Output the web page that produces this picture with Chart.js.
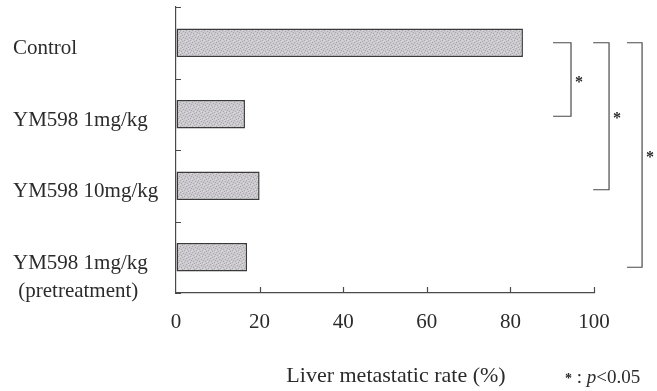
<!DOCTYPE html>
<html>
<head>
<meta charset="utf-8">
<script src="https://cdn.jsdelivr.net/npm/chart.js@4/dist/chart.umd.min.js"></script>
<style>
  html, body { margin: 0; padding: 0; background: #fff; }
  #box { width: 657px; height: 391px; }
</style>
</head>
<body>
<div id="box"><canvas id="grafico"></canvas></div>
<script>
const grupos = ['Control', 'YM598 1mg/kg', 'YM598 10mg/kg', ['', 'YM598 1mg/kg', ' (pretreatment)']];
const taxas = [83, 16.5, 20, 17];
const ticksX = [0, 20, 40, 60, 80, 100];
// comparações significativas: [grupo A, grupo B, marca]
const comparacoes = [[0, 1, '*'], [0, 2, '*'], [0, 3, '*']];

const fonte = 'Liberation Serif, Times New Roman, serif';
const corTexto = '#2b2b2b';
const corLinha = '#4a4a4a';

// textura pontilhada das barras (padrão fixo)
function criarTextura() {
  const c = document.createElement('canvas');
  c.width = 6; c.height = 6;
  const g = c.getContext('2d');
  g.fillStyle = '#cbc9cd';
  g.fillRect(0, 0, 6, 6);
  g.fillStyle = '#a9a7ab';
  [[0, 0], [3, 1], [1, 3], [4, 4], [5, 2], [2, 5]].forEach(p => g.fillRect(p[0], p[1], 1, 1));
  g.fillStyle = '#dddbdf';
  [[2, 0], [5, 5], [0, 4], [3, 3]].forEach(p => g.fillRect(p[0], p[1], 1, 1));
  return g.createPattern(c, 'repeat');
}

// tracinhos dos eixos (para dentro) + colchetes de significância + nota
const extras = {
  id: 'extras',
  afterDraw(chart) {
    const ctx = chart.ctx;
    const x = chart.scales.x, y = chart.scales.y;
    const area = chart.chartArea;
    ctx.save();
    ctx.strokeStyle = corLinha;
    ctx.lineWidth = 1.2;
    ctx.beginPath();
    ticksX.slice(1).forEach(v => {
      const px = Math.round(x.getPixelForValue(v)) + 0.5;
      ctx.moveTo(px, area.bottom);
      ctx.lineTo(px, area.bottom - 6);
    });
    for (let i = 0; i <= grupos.length; i++) {
      const py = Math.round(y.getPixelForValue(i - 0.5)) + 0.5;
      ctx.moveTo(area.left, py);
      ctx.lineTo(area.left + 5, py);
    }
    ctx.stroke();

    const posX = [[90.2, 94.5], [99.8, 103.6], [107.9, 111.5]];
    const extra = [2, 4, 10];
    ctx.fillStyle = corTexto;
    comparacoes.forEach((c, i) => {
      const x1 = x.getPixelForValue(posX[i][0]);
      const x2 = x.getPixelForValue(posX[i][1]);
      const y1 = y.getPixelForValue(c[0]);
      const y2 = y.getPixelForValue(c[1]) + extra[i];
      ctx.beginPath();
      ctx.moveTo(x1, y1);
      ctx.lineTo(x2, y1);
      ctx.lineTo(x2, y2);
      ctx.lineTo(x1, y2);
      ctx.stroke();
      ctx.font = 'bold 16px ' + fonte;
      ctx.textAlign = 'left';
      ctx.textBaseline = 'middle';
      ctx.fillText(c[2], x2 + 4, (y1 + y2) / 2 + 3);
    });

    const by = 383;
    let px = chart.width - 92;
    ctx.textBaseline = 'alphabetic';
    ctx.font = 'bold 14px ' + fonte;
    ctx.fillText('*', px, by);
    px += ctx.measureText('*').width;
    ctx.font = '19px ' + fonte;
    ctx.fillText(' : ', px, by);
    px += ctx.measureText(' : ').width;
    ctx.font = 'italic 19px ' + fonte;
    ctx.fillText('p', px, by);
    px += ctx.measureText('p').width;
    ctx.font = '19px ' + fonte;
    ctx.fillText('<0.05', px, by);
    ctx.restore();
  }
};

new Chart(document.getElementById('grafico'), {
  type: 'bar',
  data: {
    labels: grupos,
    datasets: [{
      label: 'Liver metastatic rate (%)',
      data: taxas,
      backgroundColor: criarTextura(),
      borderColor: '#3a3a3a',
      borderWidth: 1.5,
      borderSkipped: false,
      barPercentage: 0.4,
      categoryPercentage: 1
    }]
  },
  options: {
    indexAxis: 'y',
    responsive: true,
    maintainAspectRatio: false,
    animation: false,
    layout: { padding: { left: 13, top: 7, right: 63, bottom: 0 } },
    plugins: {
      legend: { display: false },
      tooltip: { enabled: false }
    },
    scales: {
      x: {
        min: 0,
        max: 100,
        afterBuildTicks(scale) { scale.ticks = ticksX.map(v => ({ value: v })); },
        afterFit(scale) { scale.height = 98; },
        grid: { drawOnChartArea: false, drawTicks: false },
        border: { color: corLinha, width: 1.2 },
        ticks: { color: corTexto, font: { family: fonte, size: 21 }, padding: 17 },
        title: {
          display: true,
          text: '    Liver metastatic rate (%)',
          color: corTexto,
          font: { family: fonte, size: 22 },
          padding: { top: 2, bottom: 2 }
        }
      },
      y: {
        afterFit(scale) {
          scale.width = 163;
          scale.paddingTop = 0;
          scale.paddingBottom = 0;
        },
        grid: { offset: true, drawOnChartArea: false, drawTicks: false },
        border: { color: corLinha, width: 1.2 },
        ticks: {
          autoSkip: false,
          crossAlign: 'far',
          labelOffset: 6,
          color: corTexto,
          font: { family: fonte, size: 21, lineHeight: 1.35 }
        }
      }
    }
  },
  plugins: [extras]
});
</script>
</body>
</html>
